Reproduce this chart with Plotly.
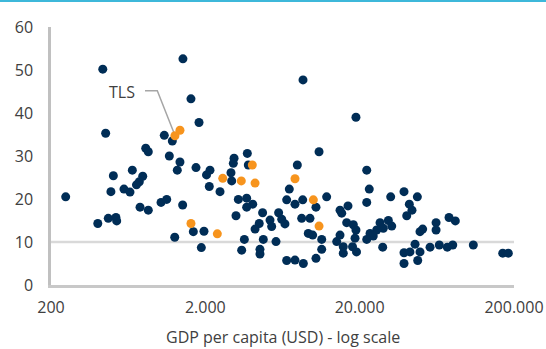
import plotly.graph_objects as go
import math

# Navy series: GDP per capita (USD) and value (%)
navy_gdp = [433, 1432, 8590, 1614, 18920, 1820, 452, 1084, 1222, 822, 854, 1169, 3742, 10910, 3070,
            1370, 1316, 1740, 2036, 2122, 673, 507, 786, 747, 716, 489, 594, 650, 249, 1033, 1124,
            1426, 755, 854, 402, 470, 527, 533, 1672, 1960, 1267, 1884, 3036, 3797, 7890, 2144,
            2932, 2964, 2490, 7000, 3272, 3706, 4056, 3706, 6732, 7620, 8550, 12220, 10420, 14920,
            15300, 4700, 5970, 6250, 6560, 3160, 8420, 9530, 4470, 4200, 5250, 5380, 16480, 18190,
            18920, 14920, 9290, 9920, 4750, 3580, 5740, 11350, 3440, 4520, 4520, 11350, 14200,
            15660, 15660, 17980, 19080, 10420, 6732, 7620, 8630, 22220, 23080, 22220, 31770, 38760,
            47300, 41960, 43660, 40360, 75860, 83360, 62520, 62520, 51200, 49200, 27100, 30690,
            32280, 28460, 25780, 23340, 24500, 22220, 18660, 28200, 45690, 49200, 38760, 38760,
            47540, 42360, 57160, 65610, 73950, 80180, 108980, 169060, 183720, 16800]
navy_val = [50.2, 52.6, 47.7, 43.3, 39.0, 37.8, 35.3, 34.8, 33.5, 31.8, 31.0, 30.0, 30.6, 31.0, 29.5,
            28.6, 26.7, 27.3, 25.6, 22.9, 26.7, 25.4, 25.3, 24.0, 23.3, 21.7, 22.3, 21.6, 20.5, 19.2, 19.9,
            18.6, 18.1, 17.4, 14.3, 15.5, 15.7, 14.9, 12.4, 12.5, 11.1, 8.7, 28.3, 27.9, 27.9, 26.7,
            26.1, 24.2, 21.7, 22.3, 19.9, 20.2, 18.8, 18.1, 19.8, 18.8, 19.8, 20.5, 18.1, 17.4,
            16.7, 16.8, 16.8, 15.3, 14.2, 16.1, 15.5, 15.5, 14.3, 13.0, 15.1, 13.6, 14.5, 14.0,
            12.8, 11.6, 12.0, 11.6, 10.6, 10.6, 10.1, 10.6, 8.1, 8.3, 7.2, 8.3, 10.1,
            8.9, 7.4, 8.9, 7.7, 6.2, 5.7, 5.8, 5.0, 26.7, 22.3, 19.2, 20.5, 21.7,
            20.5, 18.8, 17.4, 16.1, 15.7, 14.9, 14.5, 12.8, 13.0, 12.4, 14.5, 15.0,
            13.7, 13.2, 12.8, 12.0, 11.4, 10.6, 10.9, 8.8, 9.5, 7.7, 7.5, 5.0,
            5.7, 7.7, 8.8, 9.3, 8.8, 9.3, 9.3, 7.4, 7.4, 18.4]

# Orange (highlighted) series
orange_gdp = [1370, 1271, 1614, 4030, 2593, 3420, 4200, 7620, 10020, 10910, 2392]
orange_val = [36.0, 34.7, 14.3, 27.9, 24.8, 24.2, 23.7, 24.7, 19.8, 13.7, 11.9]

# TLS label and its leader line (via points in data space)
tls_label = "TLS"
leader_gdp = [813, 977, 1291]
leader_val = [45.2, 45.2, 34.2]

x_tickvals = [200, 2000, 20000, 200000]
x_ticktext = ["200", "2.000", "20.000", "200.000"]
y_tickvals = [0, 10, 20, 30, 40, 50, 60]
threshold = 10

NAVY = "#002D56"
ORANGE = "#F7941D"
TXT = "#404040"
FONT = "Open Sans"

fig = go.Figure()
fig.add_trace(go.Scatter(x=leader_gdp, y=leader_val, mode="lines",
                         line=dict(color="#a6a6a6", width=1.5), hoverinfo="skip", showlegend=False))
fig.add_trace(go.Scatter(x=navy_gdp, y=navy_val, mode="markers",
                         marker=dict(color=NAVY, size=9, line=dict(width=0)), showlegend=False))
fig.add_trace(go.Scatter(x=orange_gdp, y=orange_val, mode="markers",
                         marker=dict(color=ORANGE, size=9, line=dict(width=0)), showlegend=False))

fig.add_annotation(x=math.log10(leader_gdp[0]) - 0.055, y=leader_val[0] - 0.4, text=tls_label,
                   showarrow=False, xanchor="right", yanchor="middle",
                   font=dict(family=FONT, size=16, color=TXT))

fig.add_annotation(xref="paper", yref="paper", x=0.5, y=-52/258, text="GDP per capita (USD) - log scale",
                   showarrow=False, xanchor="center", yanchor="middle",
                   font=dict(family=FONT, size=16, color=TXT))

fig.add_shape(type="line", xref="paper", x0=0, x1=1, yref="y", y0=threshold, y1=threshold,
              line=dict(color="#d9d9d9", width=2.5), layer="below")

fig.update_layout(
    width=546, height=349,
    margin=dict(l=51, r=32, t=27, b=64, autoexpand=False),
    paper_bgcolor="white", plot_bgcolor="white",
    font=dict(family=FONT, size=16, color=TXT),
    xaxis=dict(type="log", range=[math.log10(200), math.log10(200000)],
               tickvals=x_tickvals, ticktext=x_ticktext, showgrid=False, zeroline=False,
               showline=True, linecolor="#c8c8c8", linewidth=2.5, ticks="",
               ticklabelstandoff=6, automargin=False),
    yaxis=dict(range=[0, 60], tickvals=y_tickvals, showgrid=False, zeroline=False,
               showline=True, linecolor="#c0c0c0", linewidth=2.5, ticks="",
               ticklabelstandoff=12, automargin=False),
)

post = (
    "document.body.style.margin='0';document.body.style.overflow='hidden';"
    "var bar=document.createElement('div');"
    "bar.style.cssText='position:fixed;top:0;left:0;width:100%;height:2px;background:#3db8da;z-index:10;';"
    "document.body.appendChild(bar);"
)
fig.write_html("out.html", config={"displayModeBar": False}, post_script=post)
